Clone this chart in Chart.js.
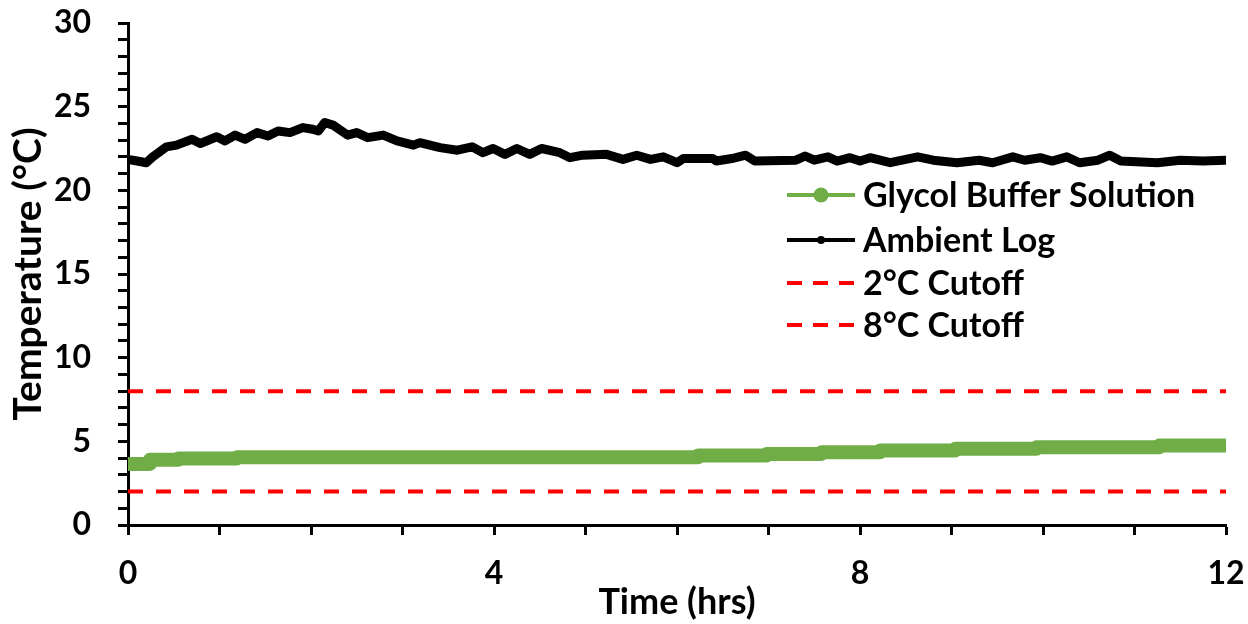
<!DOCTYPE html>
<html>
<head>
<meta charset="utf-8">
<script src="https://cdn.jsdelivr.net/npm/chart.js@4.4.1/dist/chart.umd.min.js"></script>
<style>
  html, body { margin: 0; padding: 0; background: #fff; }
  #wrap { position: relative; width: 1248px; height: 624px; }
</style>
</head>
<body>
<div id="wrap"><canvas id="tempChart"></canvas></div>
<script>
// ==============================
// データ
// ==============================
const seriesNames = ["Glycol Buffer Solution", "Ambient Log", "2°C Cutoff", "8°C Cutoff"];

// グリコール緩衝液：段階的に上昇（各段の開始時刻と値）
const glycolTimes = [0, 0.24, 0.55, 1.19, 6.23, 6.98, 7.58, 8.22, 9.04, 9.93, 11.27, 12];
const glycolTemps = [3.65, 3.9, 3.97, 4.05, 4.15, 4.25, 4.35, 4.45, 4.55, 4.65, 4.75, 4.75];

// 室温ログ
const ambientTimes = [
  0.00, 0.10, 0.20, 0.27, 0.42, 0.53, 0.70, 0.79, 0.97, 1.06,
  1.17, 1.28, 1.41, 1.53, 1.64, 1.77, 1.91, 2.02, 2.08, 2.15,
  2.24, 2.40, 2.50, 2.62, 2.79, 2.94, 3.12, 3.19, 3.41, 3.60,
  3.76, 3.88, 3.99, 4.12, 4.25, 4.39, 4.52, 4.72, 4.83, 4.97,
  5.23, 5.41, 5.56, 5.71, 5.85, 6.00, 6.07, 6.39, 6.43, 6.60,
  6.75, 6.85, 7.30, 7.40, 7.50, 7.65, 7.75, 7.89, 8.00, 8.11,
  8.33, 8.63, 8.80, 9.06, 9.30, 9.45, 9.67, 9.80, 9.97, 10.10,
  10.26, 10.40, 10.60, 10.73, 10.85, 11.25, 11.50, 11.75, 12.00
];
const ambientTemps = [
  21.85, 21.75, 21.65, 22.00, 22.60, 22.70, 23.05, 22.80, 23.20, 22.95,
  23.30, 23.05, 23.45, 23.25, 23.55, 23.45, 23.75, 23.65, 23.55, 24.05,
  23.90, 23.30, 23.45, 23.15, 23.30, 22.95, 22.70, 22.85, 22.55, 22.40,
  22.60, 22.25, 22.50, 22.15, 22.50, 22.15, 22.50, 22.25, 21.95, 22.10,
  22.15, 21.85, 22.10, 21.85, 22.00, 21.65, 21.90, 21.90, 21.75, 21.90,
  22.10, 21.75, 21.80, 22.05, 21.80, 22.00, 21.75, 21.95, 21.75, 21.95,
  21.65, 22.00, 21.80, 21.65, 21.80, 21.65, 22.00, 21.80, 21.95, 21.75,
  22.00, 21.65, 21.80, 22.10, 21.75, 21.65, 21.80, 21.75, 21.80
];

// 許容範囲（2°C / 8°C）
const cutoffTimes = [0, 12];
const lowCutoff = [2, 2];
const highCutoff = [8, 8];

// 目盛ラベル
const xTickLabels = [0, 4, 8, 12];
const yTickLabels = [0, 5, 10, 15, 20, 25, 30];

const toPoints = (xs, ys) => xs.map((x, i) => ({ x: x, y: ys[i] }));

// ==============================
// 凡例（グラフ内右側に描画）
// ==============================
const sideLegend = {
  id: "sideLegend",
  afterDraw(chart) {
    const ctx = chart.ctx;
    const x0 = 787, x1 = 855, textX = 863;
    const rowY = [195, 240, 283, 325];
    ctx.save();
    ctx.font = "bold 34px Lato";
    ctx.textBaseline = "middle";
    chart.data.datasets.forEach((ds, i) => {
      const y = rowY[i];
      ctx.strokeStyle = ds.borderColor;
      ctx.lineWidth = 4;
      ctx.setLineDash(ds.borderDash ? [15, 11] : []);
      ctx.beginPath();
      ctx.moveTo(x0, y);
      ctx.lineTo(x1, y);
      ctx.stroke();
      ctx.setLineDash([]);
      if (ds.legendMarker) {
        ctx.fillStyle = ds.borderColor;
        ctx.beginPath();
        ctx.arc(821, y, ds.legendMarker, 0, Math.PI * 2);
        ctx.fill();
      }
      ctx.fillStyle = "#000";
      ctx.fillText(ds.label, textX, y + 1);
    });
    ctx.restore();
  }
};

// ==============================
// グラフ
// ==============================
const tickFont = { family: "Lato", weight: "bold", size: 32 };

new Chart(document.getElementById("tempChart"), {
  type: "line",
  data: {
    datasets: [
      {
        label: seriesNames[0],
        data: toPoints(glycolTimes, glycolTemps),
        borderColor: "#70AD47",
        borderWidth: 14,
        borderCapStyle: "round",
        borderJoinStyle: "round",
        stepped: true,
        pointRadius: 0,
        legendMarker: 7.5
      },
      {
        label: seriesNames[1],
        data: toPoints(ambientTimes, ambientTemps),
        borderColor: "#000000",
        borderWidth: 9,
        borderCapStyle: "round",
        borderJoinStyle: "round",
        pointRadius: 0,
        legendMarker: 4
      },
      {
        label: seriesNames[2],
        data: toPoints(cutoffTimes, lowCutoff),
        borderColor: "#FF0000",
        borderWidth: 4,
        borderDash: [15, 13],
        pointRadius: 0
      },
      {
        label: seriesNames[3],
        data: toPoints(cutoffTimes, highCutoff),
        borderColor: "#FF0000",
        borderWidth: 4,
        borderDash: [15, 13],
        pointRadius: 0
      }
    ]
  },
  options: {
    responsive: true,
    maintainAspectRatio: false,
    animation: false,
    devicePixelRatio: 1,
    layout: { padding: { top: 23, right: 22, bottom: 0, left: 0 } },
    plugins: {
      legend: { display: false },
      tooltip: { enabled: false }
    },
    scales: {
      x: {
        type: "linear",
        min: 0,
        max: 12,
        // 軸の高さを固定し、ラベルのはみ出し分は外側の余白で確保
        afterFit: s => { s.height = 99; s.paddingLeft = 0; s.paddingRight = 0; },
        ticks: {
          stepSize: 1,
          autoSkip: false,
          maxRotation: 0,
          padding: 19,
          color: "#000",
          font: tickFont,
          callback: v => (xTickLabels.includes(v) ? String(v) : "")
        },
        grid: {
          drawOnChartArea: false,
          drawTicks: true,
          tickLength: 10,
          tickWidth: 3,
          tickColor: "#000"
        },
        border: { display: true, color: "#000", width: 3 },
        title: {
          display: true,
          text: "Time (hrs)",
          color: "#000",
          font: { family: "Lato", weight: "bold", size: 36 },
          padding: { top: 0, bottom: 0 }
        }
      },
      y: {
        type: "linear",
        min: 0,
        max: 30,
        afterFit: s => { s.width = 128; s.paddingTop = 0; s.paddingBottom = 0; },
        ticks: {
          stepSize: 1,
          autoSkip: false,
          padding: 27,
          color: "#000",
          font: tickFont,
          callback: v => (yTickLabels.includes(v) ? String(v) : "")
        },
        grid: {
          drawOnChartArea: false,
          drawTicks: true,
          tickLength: 10,
          tickWidth: 3,
          tickColor: "#000"
        },
        border: { display: true, color: "#000", width: 3 },
        title: {
          display: true,
          text: "Temperature (°C)",
          color: "#000",
          font: { family: "Lato", weight: "bold", size: 39 },
          padding: { top: 5, bottom: 0 }
        }
      }
    }
  },
  plugins: [sideLegend]
});
</script>
</body>
</html>
